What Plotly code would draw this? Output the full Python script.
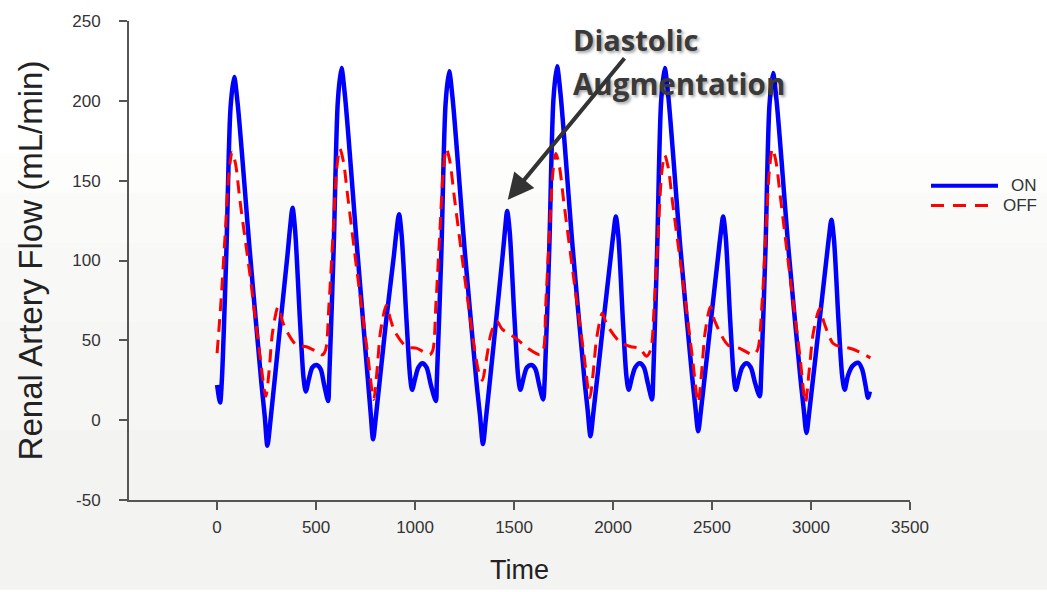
import plotly.graph_objects as go

# ---------------- data ----------------
on_time = [
    0, 15, 24, 47, 68, 86, 104, 165, 224, 241, 254, 269, 316, 356, 369, 381, 394, 418, 437, 448, 466, 481, 502, 523, 541, 561,
    566, 589, 610, 628, 646, 707, 762, 776, 788, 802, 850, 892, 906, 919, 932, 957, 975, 985, 1002, 1017, 1037, 1058, 1080, 1105,
    1110, 1133, 1154, 1172, 1190, 1251, 1310, 1328, 1343, 1357, 1404, 1443, 1455, 1465, 1478, 1502, 1521, 1532, 1549, 1565, 1588, 1608, 1627, 1647,
    1655, 1678, 1699, 1717, 1735, 1796, 1855, 1872, 1886, 1900, 1950, 1990, 2002, 2014, 2027, 2050, 2068, 2079, 2096, 2112, 2135, 2156, 2176, 2197,
    2203, 2223, 2243, 2261, 2279, 2340, 2399, 2416, 2430, 2444, 2494, 2532, 2544, 2556, 2569, 2592, 2610, 2620, 2637, 2652, 2674, 2696, 2718, 2741,
    2748, 2770, 2790, 2808, 2826, 2887, 2946, 2963, 2977, 2991, 3041, 3079, 3091, 3103, 3116, 3139, 3158, 3170, 3187, 3210, 3238, 3258, 3275, 3288, 3297,
]
on_flow = [
    22, 11, 25, 106, 196, 215, 198, 106, 23, 2, -16, -1, 56, 104, 121, 133, 119, 64, 26, 18, 27, 33, 34.5, 32, 22, 12,
    25, 108, 200, 220.5, 203, 108, 25, 4, -12, 2, 58, 102, 118, 129, 116, 62, 27, 19, 27, 33, 35.6, 33, 22, 12,
    25, 106, 198, 218.5, 201, 106, 24, 3, -15, 0, 56, 104, 120, 131, 118, 64, 27, 19, 27, 33, 34.5, 32, 22, 13,
    26, 108, 201, 221.6, 204, 108, 26, 6, -10, 4, 60, 104, 117, 127.5, 115, 62, 27, 19, 27, 33, 35.6, 33, 23, 13,
    27, 108, 200, 220.5, 203, 108, 28, 8, -7, 6, 62, 104, 117, 127.5, 115, 62, 27, 19, 27, 33, 35.6, 33, 23, 15,
    28, 107, 197, 217.4, 200, 106, 27, 7, -8, 5, 60, 102, 115, 125.5, 113, 62, 27, 19, 28, 34, 36, 32, 22, 14, 18,
]

off_time = [
    0, 20, 40, 60, 76, 94, 115, 165, 215, 246, 262, 280, 308, 330, 351, 401, 451, 502, 532, 548,
    565, 585, 604, 620, 638, 660, 708, 760, 791, 807, 826, 855, 876, 900, 956, 1010, 1074, 1090,
    1105, 1124, 1143, 1158, 1176, 1198, 1250, 1300, 1322, 1340, 1360, 1385, 1413, 1440, 1512, 1570, 1630, 1648,
    1660, 1678, 1696, 1711, 1729, 1751, 1800, 1852, 1883, 1899, 1918, 1946, 1968, 2034, 2090, 2135, 2169, 2190,
    2208, 2227, 2246, 2261, 2279, 2301, 2350, 2400, 2430, 2446, 2465, 2492, 2514, 2581, 2640, 2707, 2730,
    2752, 2771, 2790, 2805, 2823, 2845, 2894, 2944, 2972, 2990, 3012, 3044, 3066, 3112, 3150, 3196, 3240, 3271, 3300,
]
off_flow = [
    42, 75, 115, 155, 168, 160, 138, 92, 42, 15, 30, 55, 71, 62, 56, 47, 46, 43, 41, 44,
    72, 115, 157, 170, 162, 140, 92, 42, 13, 30, 56, 72, 63, 55, 46, 45, 41, 44,
    72, 115, 157, 170, 162, 140, 90, 45, 30, 25, 38, 55, 62, 57, 51, 45, 41, 44,
    72, 115, 155, 167, 159, 137, 90, 42, 14, 29, 52, 67, 60, 49, 46, 45, 40, 44,
    72, 115, 155, 166, 158, 136, 90, 40, 11, 28, 55, 71, 62, 47, 45, 41, 44,
    72, 115, 157, 170, 162, 140, 90, 40, 11, 30, 55, 70, 61, 48, 46, 45, 43, 41, 39,
]

x_tick_vals = [0, 500, 1000, 1500, 2000, 2500, 3000, 3500]
x_tick_text = ["0", "500", "1000", "1500", "2000", "2500", "3000", "3500"]
y_tick_vals = [-50, 0, 50, 100, 150, 200, 250]
y_tick_text = ["-50", "0", "50", "100", "150", "200", "250"]
series_names = ["ON", "OFF"]

# ---------------- figure ----------------
fig = go.Figure()
fig.add_trace(go.Scatter(
    x=on_time, y=on_flow, mode="lines", name=series_names[0],
    line=dict(color="#0000ff", width=4.5, shape="spline", smoothing=0.8),
    showlegend=False,
))
fig.add_trace(go.Scatter(
    x=off_time, y=off_flow, mode="lines", name=series_names[1],
    line=dict(color="#ff0000", width=3, dash="13px,8px", shape="spline", smoothing=0.8),
    showlegend=False,
))

L, R, T, B = 129, 137, 16, 91
W, H = 1047, 592
pw, ph = W - L - R, H - T - B


def px_x(p):
    return (p - L) / pw


def px_y(p):
    return (H - B - p) / ph


shapes = []
# soft grey background bands (gradient-like)
bands = [(150, 190, "#fdfdfc"), (190, 240, "#fafaf9"), (240, 320, "#f8f8f6"),
         (320, 430, "#f6f6f4"), (430, 592, "#f3f3f1")]
for top, bot, col in bands:
    shapes.append(dict(type="rect", xref="paper", yref="paper",
                       x0=px_x(0), x1=px_x(W), y0=px_y(bot), y1=px_y(top),
                       fillcolor=col, line=dict(width=0), layer="below"))
# legend samples
shapes.append(dict(type="line", xref="paper", yref="paper",
                   x0=px_x(931), x1=px_x(998), y0=px_y(182.7), y1=px_y(182.7),
                   line=dict(color="#0000ff", width=4)))
shapes.append(dict(type="line", xref="paper", yref="paper",
                   x0=px_x(931), x1=px_x(988), y0=px_y(202.7), y1=px_y(202.7),
                   line=dict(color="#ff0000", width=3, dash="13px,9px")))

annotations = [
    dict(xref="paper", yref="paper", x=px_x(1039), y=px_y(183), xanchor="right", yanchor="middle",
         text=series_names[0], showarrow=False,
         font=dict(family="Liberation Sans, Arial", size=17, color="#333333")),
    dict(xref="paper", yref="paper", x=px_x(1039), y=px_y(203), xanchor="right", yanchor="middle",
         text=series_names[1], showarrow=False,
         font=dict(family="Liberation Sans, Arial", size=17, color="#333333")),
    dict(xref="paper", yref="paper", x=px_x(571), y=px_y(35), xanchor="left", yanchor="middle",
         text="<b>Diastolic</b>", showarrow=False,
         font=dict(family="Open Sans", size=29, color="#3a3a3a",
                   shadow="2px 2px 3px rgba(0,0,0,0.35)")),
    dict(xref="paper", yref="paper", x=px_x(571), y=px_y(79), xanchor="left", yanchor="middle",
         text="<b>Augmentation</b>", showarrow=False,
         font=dict(family="Open Sans", size=29.5, color="#3a3a3a",
                   shadow="2px 2px 3px rgba(0,0,0,0.35)")),
    dict(xref="x", yref="y", x=1468, y=138, ax=118, ay=-143, axref="pixel", ayref="pixel",
         text="", showarrow=True, arrowhead=2, arrowsize=1.3, arrowwidth=4,
         arrowcolor="#333333", standoff=0),
]

axis_font = dict(family="Liberation Sans, Arial", size=17, color="#333333")
fig.update_layout(
    width=W, height=H,
    margin=dict(l=L, r=R, t=T, b=B, pad=0),
    paper_bgcolor="#ffffff",
    plot_bgcolor="rgba(0,0,0,0)",
    shapes=shapes,
    annotations=annotations,
    xaxis=dict(
        range=[-445, 3500], tickmode="array", tickvals=x_tick_vals, ticktext=x_tick_text,
        ticks="outside", ticklen=8, tickwidth=2, tickcolor="#555555",
        showline=True, linecolor="#555555", linewidth=2,
        showgrid=False, zeroline=False, tickfont=axis_font, ticklabelstandoff=3,
        title=dict(text="Time", standoff=24,
                   font=dict(family="Liberation Sans, Arial", size=27, color="#222222")),
    ),
    yaxis=dict(
        range=[-50, 250], tickmode="array", tickvals=y_tick_vals, ticktext=y_tick_text,
        ticks="outside", ticklen=8, tickwidth=2, tickcolor="#555555",
        showline=True, linecolor="#555555", linewidth=2,
        showgrid=False, zeroline=False, tickfont=axis_font, ticklabelstandoff=15,
        title=dict(text="Renal Artery Flow (mL/min)", standoff=20,
                   font=dict(family="Liberation Sans, Arial", size=33, color="#222222")),
    ),
)

fig.write_html("out.html")
